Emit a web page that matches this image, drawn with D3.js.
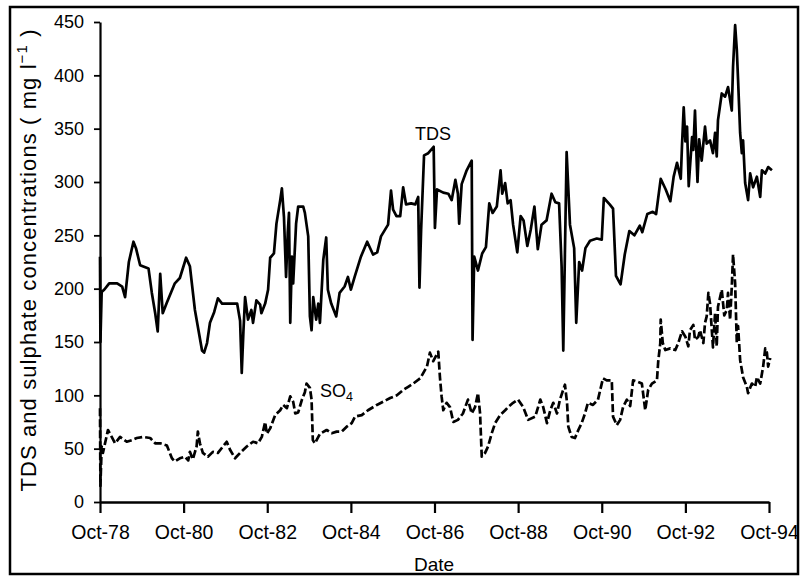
<!DOCTYPE html>
<html>
<head>
<meta charset="utf-8">
<script src="https://cdn.jsdelivr.net/npm/d3@7"></script>
<style>
  html, body { margin: 0; padding: 0; background: #fff; }
  svg { display: block; }
  text { font-family: "Liberation Sans", Arial, Helvetica, sans-serif; fill: #000; }
</style>
</head>
<body>
<svg id="chart" width="801" height="576"></svg>
<script>
// ---- data (decimal years, mg/l) ----
const tdsDates = [1978.75,1978.76,1978.79,1978.85,1978.97,1979.16,1979.28,1979.35,1979.44,1979.55,1979.61,1979.71,1979.91,1979.99,1980.07,1980.13,1980.19,1980.25,1980.35,1980.54,1980.66,1980.81,1980.90,1981.02,1981.19,1981.24,1981.31,1981.38,1981.48,1981.57,1981.67,1981.86,1982.03,1982.10,1982.14,1982.18,1982.22,1982.29,1982.37,1982.41,1982.49,1982.58,1982.61,1982.70,1982.77,1982.82,1982.91,1982.97,1983.06,1983.10,1983.15,1983.20,1983.24,1983.27,1983.30,1983.34,1983.37,1983.44,1983.49,1983.61,1983.65,1983.73,1983.77,1983.81,1983.85,1983.92,1983.97,1984.01,1984.09,1984.16,1984.20,1984.28,1984.40,1984.48,1984.60,1984.68,1984.75,1984.84,1984.99,1985.14,1985.28,1985.38,1985.47,1985.64,1985.71,1985.76,1985.84,1985.93,1986.00,1986.07,1986.19,1986.29,1986.36,1986.39,1986.43,1986.50,1986.60,1986.73,1986.76,1986.81,1986.96,1987.08,1987.16,1987.25,1987.31,1987.34,1987.40,1987.52,1987.64,1987.66,1987.70,1987.79,1987.89,1987.98,1988.06,1988.14,1988.24,1988.33,1988.37,1988.44,1988.50,1988.57,1988.63,1988.73,1988.81,1988.88,1988.97,1989.05,1989.14,1989.22,1989.31,1989.43,1989.55,1989.64,1989.73,1989.79,1989.83,1989.91,1989.99,1990.09,1990.14,1990.21,1990.28,1990.36,1990.47,1990.63,1990.75,1990.80,1990.94,1991.02,1991.09,1991.20,1991.30,1991.41,1991.53,1991.66,1991.72,1991.84,1991.97,1992.05,1992.16,1992.28,1992.39,1992.47,1992.55,1992.64,1992.67,1992.71,1992.75,1992.79,1992.83,1992.86,1992.91,1992.94,1992.98,1993.02,1993.04,1993.08,1993.14,1993.22,1993.26,1993.34,1993.41,1993.46,1993.50,1993.53,1993.62,1993.70,1993.77,1993.86,1993.89,1993.94,1993.98,1994.01,1994.06,1994.10,1994.13,1994.18,1994.25,1994.30,1994.37,1994.46,1994.54,1994.58,1994.66,1994.73,1994.82];
const tdsValues = [230,150,197,199,205,205,202,192,225,244,238,222,219,196,177,160,214,177,187,205,210,229,221,180,142,140,149,168,178,191,186,186,186,170,121,160,192,171,180,168,189,185,177,186,199,229,233,261,283,294,267,211,252,271,168,230,205,261,277,277,271,249,174,161,192,171,186,168,227,248,199,186,174,196,202,211,199,211,230,244,232,234,249,260,292,274,268,268,295,279,280,279,286,201,255,325,327,333,257,293,290,289,283,302,289,261,298,311,320,152,230,217,233,239,280,271,277,311,289,299,280,283,260,234,268,264,240,255,277,237,260,264,289,281,280,221,142,328,260,238,168,225,217,238,245,247,246,285,279,275,212,204,232,254,250,259,253,270,272,270,303,293,282,305,318,303,335,370,338,352,296,314,342,330,367,320,300,340,320,352,336,339,327,346,324,358,383,380,389,367,408,447,424,396,346,327,339,299,283,308,295,305,286,311,308,314,311];

const so4Dates = [1978.75,1978.76,1978.79,1978.82,1978.94,1979.03,1979.11,1979.23,1979.39,1979.51,1979.63,1979.78,1979.95,1980.07,1980.19,1980.35,1980.47,1980.54,1980.66,1980.78,1980.86,1980.90,1980.97,1981.06,1981.09,1981.14,1981.21,1981.33,1981.45,1981.57,1981.69,1981.78,1981.86,1981.98,1982.10,1982.26,1982.41,1982.53,1982.62,1982.70,1982.74,1982.82,1982.94,1983.06,1983.13,1983.22,1983.30,1983.37,1983.42,1983.49,1983.58,1983.65,1983.69,1983.77,1983.81,1983.84,1983.89,1984.01,1984.17,1984.29,1984.41,1984.53,1984.65,1984.77,1984.85,1985.01,1985.16,1985.37,1985.52,1985.69,1985.85,1986.00,1986.12,1986.24,1986.41,1986.57,1986.64,1986.72,1986.84,1986.88,1986.92,1986.96,1987.04,1987.12,1987.20,1987.31,1987.43,1987.55,1987.64,1987.72,1987.79,1987.84,1987.88,1987.96,1988.03,1988.12,1988.20,1988.32,1988.44,1988.51,1988.63,1988.75,1988.87,1988.99,1989.16,1989.28,1989.35,1989.44,1989.52,1989.59,1989.68,1989.75,1989.87,1989.92,1989.95,1990.03,1990.11,1990.19,1990.27,1990.35,1990.42,1990.54,1990.66,1990.78,1990.87,1990.99,1991.02,1991.11,1991.19,1991.26,1991.35,1991.43,1991.50,1991.59,1991.71,1991.79,1991.86,1991.95,1992.07,1992.10,1992.15,1992.16,1992.21,1992.27,1992.39,1992.51,1992.58,1992.67,1992.75,1992.82,1992.86,1992.94,1992.98,1993.06,1993.10,1993.18,1993.22,1993.26,1993.30,1993.34,1993.41,1993.46,1993.50,1993.53,1993.62,1993.68,1993.74,1993.77,1993.82,1993.86,1993.89,1993.94,1993.98,1994.01,1994.06,1994.10,1994.13,1994.22,1994.25,1994.34,1994.42,1994.46,1994.54,1994.61,1994.66,1994.70,1994.73,1994.78];
const so4Values = [88,15,52,46,67.5,61,55,61,56.5,58,60,61,60,55,55,53,41,38,41,42.5,39,47,40,52,66,55,46,42.5,47,46,52,56.5,49,41,46,52,56.5,55,61,75,64,69,81.5,86,91,88,99,94,83,84,96,103,111,107,96,58,55,64,67.5,64.5,66,66,70.6,74,80,81.5,86,91,94,97.5,100,105,108,111,116,127,140,132,141,117,99,86,93,89,75,77,83,96,83,89,102,83,42.5,46,52,64.5,74,81.5,86,89,93,96,89,77,80,96,89,74,86,93,83,96,110,93,70.6,61,60,67.5,74,83,93,91,96,116,114,114,80,72,77,89,96,90,114,113,111,86,105,111,114,131.5,149,171,149,142.5,144,142.5,149,160,155,146,161,166,152,155,161,149,168,174,196,186,145,177,146,183,199,175,180,196,171,202,232,205,149,165,133,124,117,108,102,111,108,117,111,127,144,140,127,135];

const yTickValues = [0,50,100,150,200,250,300,350,400,450];
const xTickDates = [1978.75,1980.75,1982.75,1984.75,1986.75,1988.75,1990.75,1992.75,1994.75];
const xTickLabels = ["Oct-78","Oct-80","Oct-82","Oct-84","Oct-86","Oct-88","Oct-90","Oct-92","Oct-94"];

// ---- drawing ----
const svg = d3.select("#chart");
svg.append("rect").attr("x",0).attr("y",0).attr("width",801).attr("height",576).attr("fill","#fff");

const x = d3.scaleLinear().domain([1978.75, 1994.75]).range([100, 769]);
const y = d3.scaleLinear().domain([0, 450]).range([502, 22]);

const tds = tdsDates.map((t,i)=>({t, v: tdsValues[i]}));
const so4 = so4Dates.map((t,i)=>({t, v: so4Values[i]}));

const line = d3.line().x(d=>x(d.t)).y(d=>y(d.v));

// y axis
const yAxis = svg.append("g").attr("transform","translate(100,0)")
  .call(d3.axisLeft(y).tickValues(yTickValues).tickSize(6).tickSizeOuter(0).tickPadding(10).tickFormat(d3.format("d")));
yAxis.select(".domain").attr("stroke","#000").attr("stroke-width",2.2);
yAxis.selectAll(".tick line").attr("stroke","#000").attr("stroke-width",1.8);
yAxis.selectAll(".tick text").attr("font-size",18).attr("font-family","Liberation Sans, Arial, sans-serif");

// x axis
const xAxis = svg.append("g").attr("transform","translate(0,502)")
  .call(d3.axisBottom(x).tickValues(xTickDates).tickSize(11).tickSizeOuter(0).tickPadding(12)
    .tickFormat((d,i)=>xTickLabels[i]));
xAxis.select(".domain").attr("stroke","#000").attr("stroke-width",2.4);
xAxis.selectAll(".tick line").attr("stroke","#000").attr("stroke-width",2.2);
xAxis.selectAll(".tick text").attr("font-size",19.5).attr("font-family","Liberation Sans, Arial, sans-serif");

// series
svg.append("path").datum(tds).attr("d", line)
  .attr("fill","none").attr("stroke","#000").attr("stroke-width",2.7).attr("stroke-linejoin","round");
svg.append("path").datum(so4).attr("d", line)
  .attr("fill","none").attr("stroke","#000").attr("stroke-width",2.7)
  .attr("stroke-dasharray","8,3").attr("stroke-linejoin","round");

// series labels
svg.append("text").attr("x",415).attr("y",140).attr("font-size",18).text("TDS");
const so4Label = svg.append("text").attr("x",320).attr("y",397).attr("font-size",18);
so4Label.append("tspan").text("SO");
so4Label.append("tspan").attr("font-size",12.5).attr("dy",4).text("4");

// axis titles
const yt = svg.append("text")
  .attr("transform","translate(36,260) rotate(-90)")
  .attr("text-anchor","middle").attr("font-size",22).attr("letter-spacing",1.1);
yt.append("tspan").text("TDS and sulphate concentrations  ( mg l");
yt.append("tspan").attr("font-size",15).attr("dy",-9).text("\u22121");
yt.append("tspan").attr("dy",9).text(" )");

svg.append("text").attr("x",434).attr("y",571).attr("text-anchor","middle").attr("font-size",19).text("Date");

// frame
svg.append("rect").attr("x",10).attr("y",7).attr("width",788).attr("height",567)
  .attr("fill","none").attr("stroke","#000").attr("stroke-width",2.5);
</script>
</body>
</html>
